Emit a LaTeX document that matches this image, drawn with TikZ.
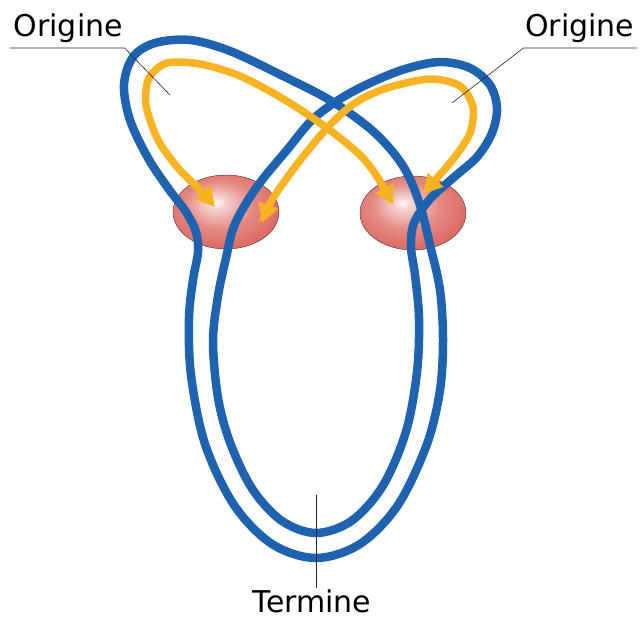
\documentclass[tikz,border=0pt]{standalone}
\usepackage{fontspec}
\setmainfont{DejaVu Sans}
\usetikzlibrary{arrows.meta,shapes.geometric}

\definecolor{tractblue}{HTML}{1E62B0}
\definecolor{flowyellow}{HTML}{F7B322}
\definecolor{ballred}{HTML}{D9574F}
\pgfdeclareradialshading{nucleus}{\pgfpoint{-5bp}{7bp}}{color(0bp)=(ballred!5); color(5bp)=(ballred!30); color(16bp)=(ballred!70); color(30bp)=(ballred!92); color(50bp)=(ballred!95!black)}

\begin{document}
\begin{tikzpicture}[
    x=1pt, y=-1pt,
    tract/.style={tractblue, line width=8.5pt},
    flow/.style={flowyellow, line width=7.5pt, {Triangle[length=19pt,width=20pt]}-{Triangle[length=19pt,width=20pt]}},
    nucl/.style={ellipse, draw=black!80, thin, shade, shading=nucleus, minimum width=106pt, minimum height=74pt, inner sep=0pt},
    lead/.style={black!85, line width=0.6pt},
    lbl/.style={font=\fontsize{30}{30}\selectfont, inner sep=1.5pt}
]

\useasboundingbox (0,0) rectangle (640,619);

% ============================================================
% Nuclei
% ============================================================
\node[nucl] (nucL) at (226,212) {};
\node[nucl] (nucR) at (413,213) {};

% ============================================================
% Tracts (blue)
% ============================================================

% Outer loop, left lobe
\draw[tract] plot[smooth cycle, tension=0.55] coordinates {
    (316,558) (272,544) (234,505) (205,444) (191,375) (189,318)
    (193,280) (198,252) (196,232) (186,212) (168,188) (148,158)
    (130,120) (124,85) (133,57) (155,43) (190,40) (230,51) (283,76)
    (333,102) (375,133) (403,166) (419,202) (430,245) (440,290)
    (443,340) (440,390) (427,444) (398,505) (360,544)};

% Inner loop, right lobe
\draw[tract] plot[smooth cycle, tension=0.55] coordinates {
    (316,533) (351.6,520.8) (383,485.5) (406,431.5) (417,372)
    (419,318) (415,275) (411,247) (414,223) (430,199) (453,178)
    (477,157) (492,133) (497,108) (490,85) (470,68) (440,62) (405,69)
    (370,83) (340,99) (312,120) (287,150) (262,180) (245,205)
    (233,229) (226,258) (218,296) (213,342) (218.3,399.4)
    (231,445) (253,490) (282,521)};

% ============================================================
% Fibres (yellow)
% ============================================================
\draw[flow] plot[smooth] coordinates {
    (215,207) (200,190) (178,168) (158,140) (146,105) (149,78)
    (167,63) (200,64) (240,76) (285,100) (327,128) (360,155)
    (378,178) (393,205)};
\draw[flow] plot[smooth] coordinates {
    (262,223) (272,200) (295,167) (327,128) (355,103) (387,88)
    (430,79) (460,86) (473,107) (470,133) (454,158) (423,194)};

% ============================================================
% Labels
% ============================================================
\node[lbl, anchor=base west] (origL) at (12,36) {Origine};
\node[lbl, anchor=base east] (origR) at (636,36) {Origine};
\node[lbl, anchor=base] (term) at (312,612) {Termine};

\coordinate (ulL) at (10,48);
\coordinate (tipL) at (170,95);
\coordinate (ulR) at (637,48);
\coordinate (tipR) at (452,103);
\coordinate (tipT) at (316,495);

\draw[lead] (ulL) -- (ulL -| origL.east) -- (tipL);
\draw[lead] (ulR) -- (ulR -| origR.west) -- (tipR);
\draw[lead] (term.north -| tipT) -- (tipT);
\end{tikzpicture}
\end{document}
